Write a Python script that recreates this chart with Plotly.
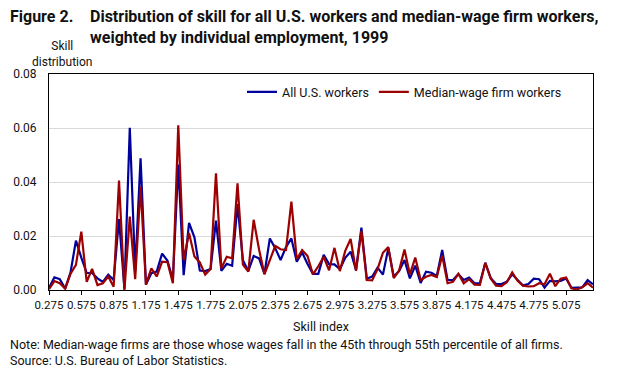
import plotly.graph_objects as go

# ---- data ----
x_start = 0.275
x_step = 0.05
all_workers = [
    0.0008, 0.0047, 0.0040, 0.0005, 0.0065, 0.0183, 0.0120, 0.0063, 0.0063, 0.0043,
    0.0030, 0.0057, 0.0037, 0.0263, 0.0005, 0.0601, 0.0070, 0.0488, 0.0020, 0.0062,
    0.0068, 0.0135, 0.0108, 0.0038, 0.0465, 0.0055, 0.0249, 0.0195, 0.0072, 0.0070,
    0.0078, 0.0257, 0.0071, 0.0097, 0.0090, 0.0318, 0.0110, 0.0070, 0.0126, 0.0117,
    0.0060, 0.0191, 0.0155, 0.0111, 0.0159, 0.0191, 0.0105, 0.0139, 0.0096, 0.0060,
    0.0060, 0.0130, 0.0096, 0.0095, 0.0077, 0.0119, 0.0142, 0.0074, 0.0231, 0.0042,
    0.0050, 0.0083, 0.0057, 0.0155, 0.0050, 0.0070, 0.0111, 0.0043, 0.0090, 0.0026,
    0.0068, 0.0064, 0.0052, 0.0148, 0.0037, 0.0037, 0.0059, 0.0037, 0.0046, 0.0025,
    0.0026, 0.0101, 0.0045, 0.0022, 0.0022, 0.0031, 0.0058, 0.0036, 0.0017, 0.0022,
    0.0042, 0.0040, 0.0009, 0.0034, 0.0032, 0.0034, 0.0043, 0.0008, 0.0009, 0.0010,
    0.0037, 0.0021,
]
median_wage = [
    0.0003, 0.0033, 0.0025, 0.0005, 0.0060, 0.0093, 0.0216, 0.0030, 0.0078, 0.0018,
    0.0025, 0.0050, 0.0012, 0.0405, 0.0000, 0.0272, 0.0040, 0.0383, 0.0020, 0.0080,
    0.0050, 0.0105, 0.0103, 0.0025, 0.0610, 0.0110, 0.0211, 0.0124, 0.0102, 0.0057,
    0.0078, 0.0432, 0.0080, 0.0123, 0.0117, 0.0395, 0.0094, 0.0068, 0.0260, 0.0150,
    0.0058, 0.0112, 0.0163, 0.0151, 0.0148, 0.0327, 0.0114, 0.0148, 0.0126, 0.0058,
    0.0088, 0.0123, 0.0073, 0.0156, 0.0070, 0.0145, 0.0189, 0.0071, 0.0218, 0.0037,
    0.0036, 0.0077, 0.0138, 0.0159, 0.0044, 0.0072, 0.0150, 0.0058, 0.0120, 0.0037,
    0.0049, 0.0056, 0.0048, 0.0128, 0.0025, 0.0030, 0.0060, 0.0025, 0.0040, 0.0020,
    0.0019, 0.0100, 0.0043, 0.0016, 0.0014, 0.0029, 0.0065, 0.0034, 0.0016, 0.0013,
    0.0014, 0.0025, 0.0021, 0.0060, 0.0014, 0.0042, 0.0046, 0.0006, 0.0002, 0.0010,
    0.0025, 0.0009,
]
skill_index = [round(x_start + x_step * i, 3) for i in range(len(all_workers))]
tick_vals = [round(0.275 + 0.3 * k, 3) for k in range(17)]
tick_text = [f"{v:.3f}" for v in tick_vals]
y_ticks = [0.00, 0.02, 0.04, 0.06, 0.08]

FONT = "Roboto, Lato, sans-serif"
L, T, W, H = 49, 74, 544, 216

fig = go.Figure()
fig.add_trace(go.Scatter(x=skill_index, y=all_workers, mode="lines",
                         name="All U.S. workers",
                         line=dict(color="#00009c", width=2.2)))
fig.add_trace(go.Scatter(x=skill_index, y=median_wage, mode="lines",
                         name="Median-wage firm workers",
                         line=dict(color="#9c0000", width=2.2)))

fig.update_layout(
    width=623, height=374,
    margin=dict(l=L, r=623 - L - W, t=T, b=374 - T - H, autoexpand=False),
    paper_bgcolor="white", plot_bgcolor="white",
    font=dict(family=FONT, size=12, color="#111111"),
    showlegend=True,
    legend=dict(orientation="h", x=(567 - L) / W, xanchor="right", y=0.985, yanchor="top",
                font=dict(size=12.5), bgcolor="rgba(0,0,0,0)", itemwidth=30),
    xaxis=dict(range=[skill_index[0], skill_index[-1]], tickvals=tick_vals, ticktext=tick_text,
               tickangle=0,
               showgrid=False, zeroline=False, showline=True, linecolor="black", linewidth=1,
               mirror=True, ticks="outside", ticklen=4, tickcolor="black",
               tickfont=dict(size=11.5),
               title=dict(text="Skill index", font=dict(size=12.5), standoff=11)),
    yaxis=dict(range=[0, 0.08], tickvals=y_ticks, tickformat=".2f",
               showgrid=True, gridcolor="#d9d9d9", gridwidth=1, zeroline=False,
               showline=True, linecolor="black", linewidth=1, mirror=True,
               ticks="", tickfont=dict(size=12), ticklabelstandoff=9),
)

anns = [
    dict(text="<b>Figure 2.</b>", x=8, y=5, font=dict(size=16)),
    dict(text="<b>Distribution of skill for all U.S. workers and median-wage firm workers,<br>weighted by individual employment, 1999</b>",
         x=88, y=5, font=dict(size=16)),
    dict(text="Note: Median-wage firms are those whose wages fall in the 45th through 55th percentile of all firms.<br>Source: U.S. Bureau of Labor Statistics.",
         x=8, y=335, font=dict(size=12.5)),
]
for a in anns:
    fig.add_annotation(xref="paper", yref="paper", xanchor="left", yanchor="top",
                       align="left", showarrow=False,
                       x=(a["x"] - L) / W, y=1 - (a["y"] - T) / H,
                       text=a["text"], font=dict(family=FONT, color="#111111", **a["font"]))
fig.add_annotation(xref="paper", yref="paper", xanchor="center", yanchor="bottom",
                   showarrow=False, x=(62 - L) / W, y=1 - (71 - T) / H,
                   text="Skill<br>distribution", align="center",
                   font=dict(family=FONT, size=12, color="#111111"))

fig.write_html("out.html", config={"displayModeBar": False},
               post_script="document.body.style.margin='0px';")
